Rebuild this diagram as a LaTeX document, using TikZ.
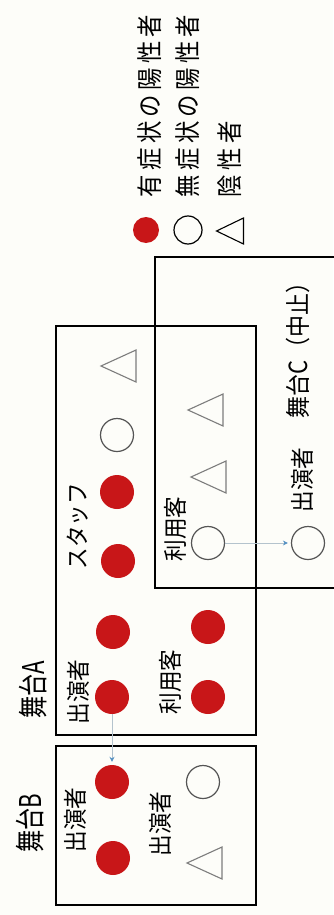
\documentclass[tikz,border=0pt]{standalone}
\usepackage{fontspec}
\setmainfont{Noto Sans CJK JP}
\usetikzlibrary{arrows.meta}
\definecolor{posred}{RGB}{200,22,24}
\definecolor{ringc}{RGB}{85,85,85}
\definecolor{tric}{RGB}{125,125,125}
\definecolor{arrline}{RGB}{180,195,205}
\definecolor{arrtip}{RGB}{85,145,195}
\definecolor{bgc}{RGB}{253,253,249}
\newcommand{\vtxt}[3]{\scalebox{#2}[1]{\fontsize{#1}{#1}\selectfont #3}}
\begin{document}
\begin{tikzpicture}[x=1pt,y=-1pt,
  lbl/.style={rotate=90,inner sep=0pt,outer sep=0pt,text=black},
  posdot/.style={circle,fill=posred,draw=none,minimum size=34pt,inner sep=0pt},
  ring/.style={circle,draw=ringc,line width=1.2pt,minimum size=33pt,inner sep=0pt},
  stagebox/.style={draw=black,line width=2.6pt},
  stagec/.style={draw=black,line width=2pt},
  conn/.style={draw=arrline,line width=0.9pt,-{Stealth[length=5pt,width=5pt,color=arrtip,fill=arrtip]},shorten >=3pt},
  negtri/.pic={\draw[tric,line width=1.1pt,line join=miter] (-17,0) -- (18,-16) -- (18,16) -- cycle;},
  negtrismall/.pic={\draw[black,line width=1.1pt] (-13.5,0) -- (13.5,-13) -- (13.5,13) -- cycle;}
]
\fill[bgc] (0,0) rectangle (333,915);
\useasboundingbox (0,0) rectangle (333,915);

% legend
\node[circle,fill=posred,minimum size=26pt,inner sep=0pt] (lgpos) at (146,230) {};
\node[circle,draw=black,line width=1.2pt,minimum size=28pt,inner sep=0pt] (lgring) at (188,230) {};
\pic at (230,231) {negtrismall};
\node[lbl,anchor=west] (lgt1) at (150,197) {\vtxt{26}{0.86}{有\kern5pt 症\kern5pt 状\kern5pt の\kern5pt 陽\kern5pt 性\kern5pt 者}};
\node[lbl,anchor=west] (lgt2) at (188,197) {\vtxt{26}{0.86}{無\kern5pt 症\kern5pt 状\kern5pt の\kern5pt 陽\kern5pt 性\kern5pt 者}};
\node[lbl,anchor=west] (lgt3) at (230,197) {\vtxt{26}{0.86}{陰\kern5pt 性\kern5pt 者}};

% boxes
\draw[stagebox] (56,326) rectangle (256,735);
\draw[stagebox] (56,746) rectangle (256,905);
\draw[stagec] (340,257) -- (155,257) -- (155,588) -- (340,588);

% stage labels
\node[lbl] (stA) at (33,690) {\vtxt{30}{0.74}{舞台A}};
\node[lbl] (stB) at (30,823) {\vtxt{30}{0.74}{舞台B}};
\node[lbl] (stC) at (298,345) {\vtxt{25}{0.88}{舞台C（中止）}};

% stage A
\node[lbl] (aperf) at (78,692) {\vtxt{24}{0.9}{出演者}};
\node[lbl] (aguest) at (170,682) {\vtxt{24}{0.9}{利用客}};
\node[lbl] (astaff) at (78,526) {\vtxt{24}{0.9}{スタッフ}};
\node[posdot] (a1) at (113,632) {};
\node[posdot] (a2) at (112,697) {};
\node[posdot] (a3) at (208,627) {};
\node[posdot] (a4) at (208,697) {};
\node[posdot] (s1) at (117,492) {};
\node[posdot] (s2) at (118,561) {};
\node[ring] (s3) at (117,435) {};
\pic at (118,366) {negtri};

% stage C
\node[lbl] (cguest) at (175,529) {\vtxt{24}{0.9}{利用客}};
\node[ring] (c1) at (208,543) {};
\pic at (208,477) {negtri};
\pic at (205,410) {negtri};
\node[lbl] (cperf) at (302,480) {\vtxt{24}{0.9}{出演者}};
\node[ring] (c4) at (308,543) {};

% stage B
\node[lbl] (bperf1) at (75,820) {\vtxt{24}{0.9}{出演者}};
\node[lbl] (bperf2) at (160,824) {\vtxt{24}{0.9}{出演者}};
\node[posdot] (b1) at (112,782) {};
\node[posdot] (b2) at (113,858) {};
\node[ring] (b3) at (203,782) {};
\pic at (204,863) {negtri};

% connectors
\draw[conn] (a2) -- (b1);
\draw[conn] (c1) -- (c4);
\end{tikzpicture}
\end{document}
